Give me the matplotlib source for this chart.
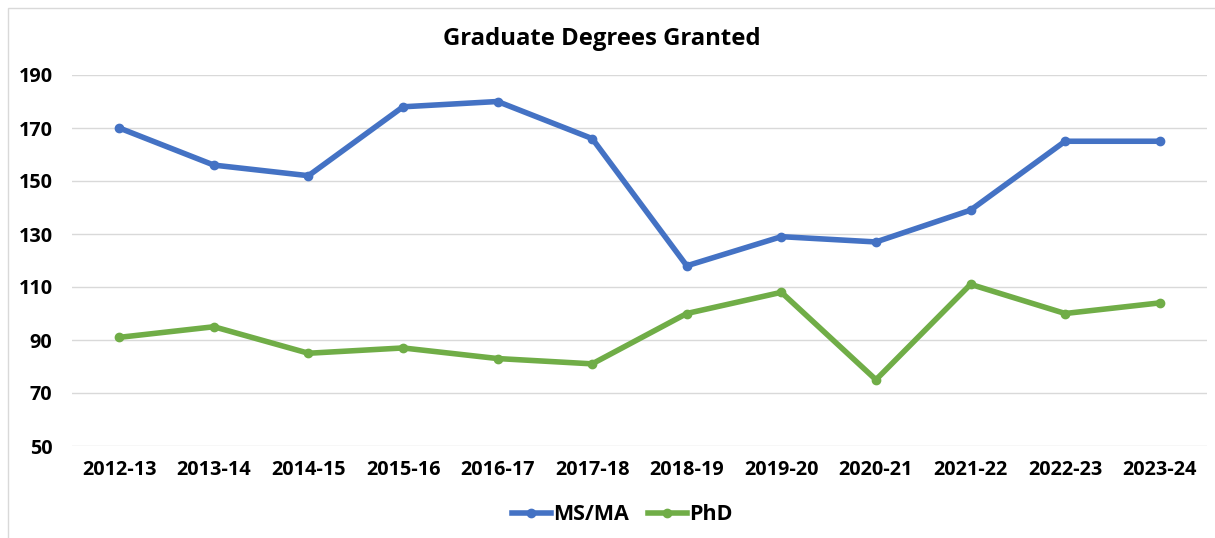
import matplotlib.pyplot as plt
from matplotlib.patches import Rectangle
from matplotlib.lines import Line2D

years = ["2012-13", "2013-14", "2014-15", "2015-16", "2016-17", "2017-18",
         "2018-19", "2019-20", "2020-21", "2021-22", "2022-23", "2023-24"]
ms_ma = [170, 156, 152, 178, 180, 166, 118, 129, 127, 139, 165, 165]
phd = [91, 95, 85, 87, 83, 81, 100, 108, 75, 111, 100, 104]
y_ticks = [50, 70, 90, 110, 130, 150, 170, 190]

plt.rcParams["font.family"] = ["Open Sans", "DejaVu Sans"]
plt.rcParams["font.weight"] = "bold"

fig = plt.figure(figsize = (12.15, 5.38), dpi = 100)
ax = fig.add_axes([72 / 1215, 1 - 446 / 538, (1207 - 72) / 1215, (446 - 75) / 538])

# light frame around the whole chart
fig.patches.append(Rectangle((8 / 1215, -0.1), 1.2, 1 - 8 / 538 + 0.1,
                             transform = fig.transFigure, fill = False,
                             edgecolor = "#d9d9d9", linewidth = 1))

x = range(len(years))
ax.plot(x, ms_ma, color = "#4472C4", linewidth = 4, marker = "o", markersize = 6,
        solid_capstyle = "round", label = "MS/MA")
ax.plot(x, phd, color = "#70AD47", linewidth = 4, marker = "o", markersize = 6,
        solid_capstyle = "round", label = "PhD")

ax.set_xlim(-0.5, len(years) - 0.5)
ax.set_ylim(50, 190)
ax.set_yticks(y_ticks)
ax.set_xticks(list(x))
ax.set_xticklabels(years, fontweight = "bold")
ax.set_yticklabels([str(v) for v in y_ticks], fontweight = "bold")
ax.grid(axis = "y", color = "#d9d9d9", linewidth = 1)
ax.set_axisbelow(True)
for s in ax.spines.values():
    s.set_visible(False)
ax.tick_params(length = 0, labelsize = 14.3, colors = "black")
ax.tick_params(axis = "x", pad = 10)
ax.tick_params(axis = "y", pad = 14)

fig.text(0.495, 1 - 39 / 538, "Graduate Degrees Granted", ha = "center", va = "center",
         fontsize = 17.2, fontweight = "bold")

handles = [Line2D([], [], color = "#4472C4", linewidth = 4, marker = "o", markersize = 6),
           Line2D([], [], color = "#70AD47", linewidth = 4, marker = "o", markersize = 6)]
fig.legend(handles, ["MS/MA", "PhD"], loc = "center", bbox_to_anchor = (0.512, 1 - 515 / 538),
           ncol = 2, frameon = False, handlelength = 1.8,
           handletextpad = 0.1, columnspacing = 0.9,
           prop = {"family": ["Open Sans", "DejaVu Sans"], "weight": "bold", "size": 15.5})

fig.savefig("out.png", dpi = 100)
